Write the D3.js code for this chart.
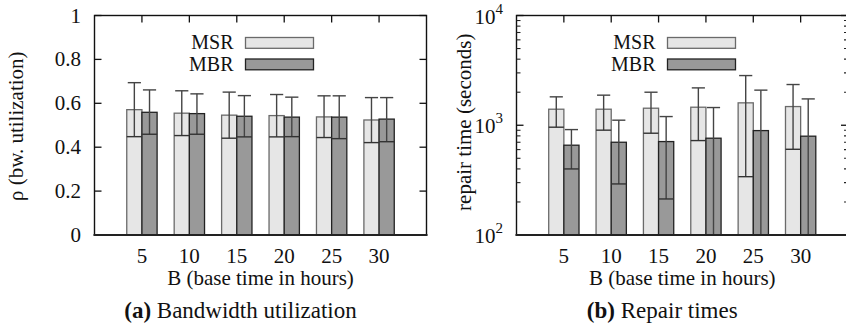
<!DOCTYPE html>
<html><head><meta charset="utf-8">
<script src="https://cdn.jsdelivr.net/npm/d3@7"></script>
</head><body style="margin:0">
<svg id="c" width="846" height="329" style="font-family:'Liberation Serif'"></svg>
<script>
const categories = [5, 10, 15, 20, 25, 30];
const seriesNames = ["MSR", "MBR"];
// (a) bandwidth utilization
const bwMSR   = [0.571, 0.555, 0.546, 0.544, 0.538, 0.524];
const bwMSRHi = [0.694, 0.657, 0.651, 0.640, 0.634, 0.626];
const bwMSRLo = [0.448, 0.453, 0.441, 0.447, 0.444, 0.421];
const bwMBR   = [0.559, 0.553, 0.541, 0.537, 0.537, 0.528];
const bwMBRHi = [0.661, 0.643, 0.635, 0.628, 0.634, 0.626];
const bwMBRLo = [0.459, 0.459, 0.447, 0.448, 0.439, 0.425];
const bwTicks = [0, 0.2, 0.4, 0.6, 0.8, 1];
// (b) repair times (seconds)
const rtMSR   = [1400, 1400, 1430, 1460, 1600, 1480];
const rtMSRHi = [1815, 1880, 2000, 2190, 2836, 2350];
const rtMSRLo = [960, 902, 846, 725, 340, 604];
const rtMBR   = [658, 700, 710, 762, 894, 795];
const rtMBRHi = [913, 1112, 1200, 1450, 2089, 1738];
const rtMBRLo = [400, 292, 213, 74, -301, -148];
const rtTicks = [100, 1000, 10000];
const rtExp = ["2", "3", "4"];

const svg = d3.select("#c");
const FS = 21;
const colors = {MSR: "#e6e6e6", MBR: "#999999"};
const strokes = {MSR: "#6a6a6a", MBR: "#222"};

function txt(x, y, size, anchor) {
  return svg.append("text").attr("x", x).attr("y", y).attr("font-size", size).attr("text-anchor", anchor || "middle")
    .style("font-family", '"Liberation Serif"').style("fill", "#111");
}

function panel(opt) {
  const {x0, x1, yTop, yBot} = opt;
  const x = d3.scaleBand().domain(categories).range([x0, x1]).paddingInner(0).paddingOuter(0.5);
  const y = opt.y;
  const step = x.step();
  const bw = step * 0.32;
  const lo = y.domain()[0];
  const cy = v => y(Math.max(v, lo));
  const ln = (a, b, c, d, col, w) => svg.append("line").attr("x1", a).attr("y1", b).attr("x2", c).attr("y2", d).attr("stroke", col).attr("stroke-width", w);

  svg.append("rect").attr("x", x0).attr("y", yTop).attr("width", x1 - x0).attr("height", yBot - yTop)
    .attr("fill", "none").attr("stroke", "#111").attr("stroke-width", 1.4);
  opt.ticks.forEach(t => { ln(x0, y(t), x0 + 7, y(t), "#111", 1.3); ln(x1, y(t), x1 - 7, y(t), "#111", 1.3); });
  (opt.minor || []).forEach(t => { ln(x0, y(t), x0 + 4, y(t), "#222", 1.1); ln(x1, y(t), x1 - 4, y(t), "#222", 1.1); });
  categories.forEach(c => {
    const cx = x(c) + step / 2;
    ln(cx, yTop, cx, yTop + 7, "#111", 1.3);
    ln(cx, yBot, cx, yBot - 7, "#111", 1.3);
  });

  opt.series.forEach((s, si) => {
    categories.forEach((c, i) => {
      const cx = x(c) + step / 2;
      const bx = si === 0 ? cx - bw : cx;
      svg.append("rect").attr("x", bx).attr("y", y(s.v[i])).attr("width", bw).attr("height", yBot - y(s.v[i]))
        .attr("fill", colors[s.name]).attr("stroke", strokes[s.name]).attr("stroke-width", 1.3);
    });
  });
  opt.series.forEach((s, si) => {
    categories.forEach((c, i) => {
      const cx = x(c) + step / 2;
      const bx = si === 0 ? cx - bw : cx;
      const mx = bx + bw / 2;
      ln(mx, cy(s.lo[i]), mx, cy(s.hi[i]), "#444", 1.4);
      ln(bx + 1, cy(s.hi[i]), bx + bw - 1, cy(s.hi[i]), "#444", 1.4);
      ln(bx, cy(s.lo[i]), bx + bw, cy(s.lo[i]), "#333", 1.4);
    });
  });
  ln(x0 - 1, yBot, x1 + 1, yBot, "#222", 2.2);

  categories.forEach(c => { txt(x(c) + step / 2, 263, FS).text(c); });
  const pc = (x0 + x1) / 2;
  txt(pc, 285, FS).text("B (base time in hours)");
  const cap = txt(pc - 20, 318, 23);
  cap.append("tspan").attr("font-weight", "bold").text(opt.capTag);
  cap.append("tspan").text(" " + opt.capText);

  txt(0, 0, FS).attr("transform", `translate(${opt.ytX},${(yTop + yBot) / 2 + opt.ytDy}) rotate(-90)`).text(opt.yTitle);

  const lx = opt.legX;
  opt.series.forEach((s, si) => {
    const yy = [37.5, 59][si];
    txt(lx - 12, [49.3, 70.7][si], 20, "end").text(s.name);
    svg.append("rect").attr("x", lx).attr("y", yy).attr("width", 68).attr("height", 10.8)
      .attr("fill", colors[s.name]).attr("stroke", strokes[s.name]).attr("stroke-width", 1.3);
  });
  return {x, y};
}

const yA = d3.scaleLinear().domain([0, 1]).range([235, 15.5]);
panel({
  x0: 94.5, x1: 426.5, yTop: 15.5, yBot: 235, y: yA, ticks: bwTicks,
  series: [{name: "MSR", v: bwMSR, hi: bwMSRHi, lo: bwMSRLo}, {name: "MBR", v: bwMBR, hi: bwMBRHi, lo: bwMBRLo}],
  capTag: "(a)", capText: "Bandwidth utilization", yTitle: "ρ (bw. utilization)", ytX: 23, ytDy: 1, legX: 245.5
});
bwTicks.forEach(t => { txt(81, yA(t) + 7, FS, "end").text(d3.format("~g")(t)); });

const yB = d3.scaleLog().domain([100, 10000]).range([235, 15.5]);
const minorB = [];
[100, 1000].forEach(b => { for (let k = 2; k <= 9; k++) minorB.push(b * k); });
panel({
  x0: 516.5, x1: 848, yTop: 15.5, yBot: 235, y: yB, ticks: rtTicks, minor: minorB,
  series: [{name: "MSR", v: rtMSR, hi: rtMSRHi, lo: rtMSRLo}, {name: "MBR", v: rtMBR, hi: rtMBRHi, lo: rtMBRLo}],
  capTag: "(b)", capText: "Repair times", yTitle: "repair time (seconds)", ytX: 471, ytDy: -3, legX: 667.5
});
rtTicks.forEach((t, i) => {
  const tx = txt(503, yB(t) + 8, FS, "end");
  tx.append("tspan").text("10");
  tx.append("tspan").attr("dy", -10).attr("font-size", 15).text(rtExp[i]);
});
</script></body></html>
